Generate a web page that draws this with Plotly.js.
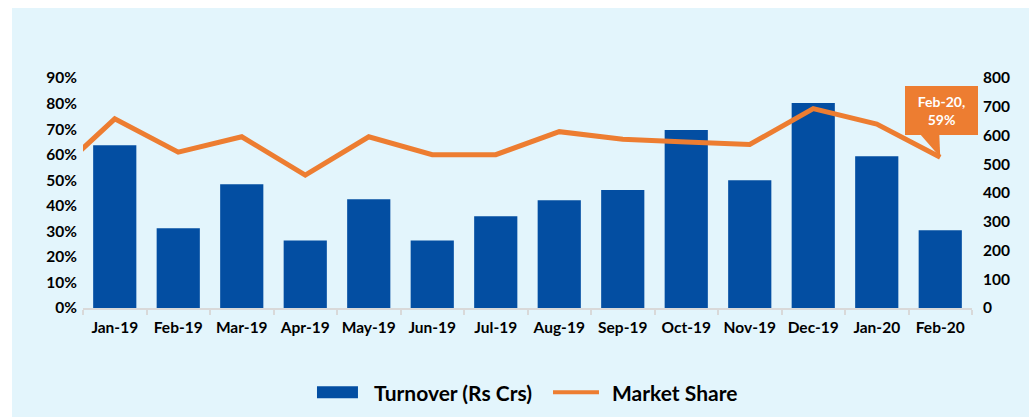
<!DOCTYPE html>
<html>
<head>
<meta charset="utf-8">
<script src="https://cdn.plot.ly/plotly-3.0.1.min.js"></script>
<style>
html,body{margin:0;padding:0;background:#ffffff;}
#chart{position:absolute;left:12px;top:8px;width:1017px;height:409px;}
</style>
</head>
<body>
<div id="chart"></div>
<script>
// Categories
const months = ['Jan-19','Feb-19','Mar-19','Apr-19','May-19','Jun-19','Jul-19','Aug-19','Sep-19','Oct-19','Nov-19','Dec-19','Jan-20','Feb-20'];
// Turnover (Rs Crs) - right axis
const turnover = [566, 277, 430, 235, 378, 235, 319, 375, 410, 619, 444, 713, 528, 270];
// Market share (%) - left axis; first value is the preceding month (Dec-18), clipped at the plot edge
const shareMonths = ['Dec-18'].concat(months);
const marketShare = [51, 74, 61, 67, 52, 67, 60, 60, 69, 66, 65, 64, 78, 72, 59];
const leftTicks = [0,10,20,30,40,50,60,70,80,90];
const leftTickText = leftTicks.map(v => v + '%');
const rightTicks = [0,100,200,300,400,500,600,700,800];

const FONT = 'Lato, "Open Sans", sans-serif';
const shareX = shareMonths.map((m, i) => i - 1);
const lastIdx = marketShare.length - 1;
const ORANGE = '#ED7D31';
const BLUE = '#034EA2';

const bars = {
  type: 'bar', name: 'Turnover (Rs Crs)', x: months, y: turnover,
  xaxis: 'x', yaxis: 'y', marker: {color: BLUE}, showlegend: false,
  hoverinfo: 'x+y'
};
const line = {
  type: 'scatter', mode: 'lines', name: 'Market Share', x: shareX, y: marketShare,
  xaxis: 'x2', yaxis: 'y2', line: {color: ORANGE, width: 5}, showlegend: false,
  text: shareMonths, hoverinfo: 'text+y'
};

const tickFont = {family: FONT, size: 15.5, weight: 700, color: '#000'};

const layout = {
  width: 1017, height: 409,
  paper_bgcolor: '#E3F5FC', plot_bgcolor: 'rgba(0,0,0,0)',
  margin: {l: 71, r: 57, t: 70, b: 109},
  bargap: 0.32,
  font: {family: FONT, color: '#000000'},
  xaxis: {
    type: 'category', range: [-0.5, 13.5], tickson: 'boundaries', tickangle: 0,
    ticks: 'outside', ticklen: 5, tickwidth: 2, tickcolor: '#D9D9D9',
    showline: true, linecolor: '#D9D9D9', linewidth: 2,
    showgrid: false, zeroline: false,
    ticklabelstandoff: 4,
    tickfont: tickFont
  },
  xaxis2: {overlaying: 'x', range: [-0.5, 13.5], visible: false, showgrid: false, zeroline: false},
  yaxis: {
    side: 'right', range: [0, 800], tickvals: rightTicks, ticks: '',
    showgrid: false, zeroline: false, showline: false,
    ticklabelstandoff: 10,
    tickfont: tickFont
  },
  yaxis2: {
    side: 'left', overlaying: 'y', range: [0, 90], tickvals: leftTicks, ticktext: leftTickText, ticks: '',
    showgrid: false, zeroline: false, showline: false,
    ticklabelstandoff: 5,
    tickfont: tickFont
  },
  annotations: [
    {
      xref: 'x2', yref: 'y2', x: shareX[lastIdx], y: marketShare[lastIdx],
      text: shareMonths[lastIdx] + ',<br>' + marketShare[lastIdx] + '%',
      showarrow: true, arrowhead: 0, arrowwidth: 0.1, arrowcolor: 'rgba(0,0,0,0)',
      ax: 1, ay: -47, standoff: 0,
      bgcolor: ORANGE, bordercolor: ORANGE, borderpad: 4,
      width: 63, height: 39,
      font: {family: FONT, size: 14, weight: 700, color: '#ffffff'}
    },
    {
      xref: 'paper', yref: 'paper', x: 0.3251, y: -0.366, xanchor: 'left', yanchor: 'middle',
      text: 'Turnover (Rs Crs)', showarrow: false,
      font: {family: FONT, size: 21, weight: 700, color: '#000'}
    },
    {
      xref: 'paper', yref: 'paper', x: 0.5928, y: -0.366, xanchor: 'left', yanchor: 'middle',
      text: 'Market Share', showarrow: false,
      font: {family: FONT, size: 21, weight: 700, color: '#000'}
    }
  ],
  shapes: [
    // callout pointer anchored on the last market-share point
    {type: 'path', xref: 'x2', yref: 'y2', xsizemode: 'pixel', ysizemode: 'pixel',
     xanchor: shareX[lastIdx], yanchor: marketShare[lastIdx],
     path: 'M0,0 L-21,24 L-1,24 Z', fillcolor: ORANGE, line: {width: 0}},
    {type: 'rect', xref: 'paper', yref: 'paper', x0: 0.2632, x1: 0.3093, y0: -0.392, y1: -0.340,
     fillcolor: BLUE, line: {width: 0}},
    {type: 'line', xref: 'paper', yref: 'paper', x0: 0.5287, x1: 0.5804, y0: -0.366, y1: -0.366,
     line: {color: ORANGE, width: 4}}
  ]
};

Plotly.newPlot('chart', [bars, line], layout, {displayModeBar: false, staticPlot: true});
</script>
</body>
</html>
